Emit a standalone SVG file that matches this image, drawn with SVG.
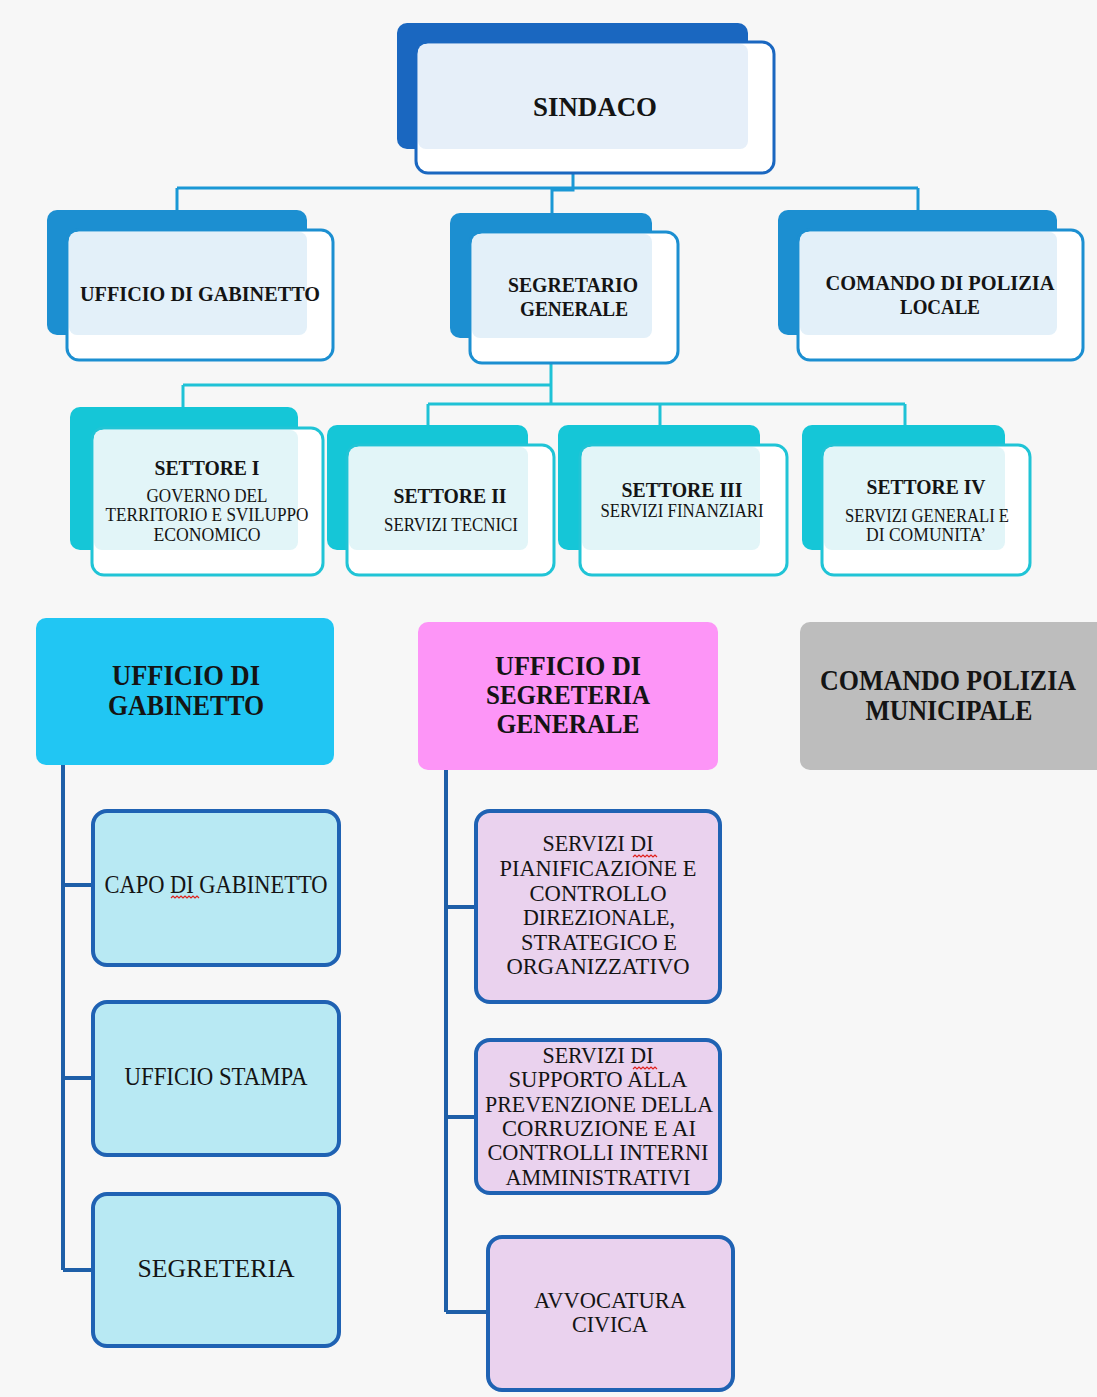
<svg xmlns="http://www.w3.org/2000/svg" width="1097" height="1397" viewBox="0 0 1097 1397">
<style>
.t{font-family:"Liberation Serif","DejaVu Serif",serif;text-anchor:middle;fill:#141414}
.b{font-weight:bold}
.bk1{fill:#1a67c0}.fr1{fill:#fff;stroke:#1a67c0;stroke-width:3}.ov1{fill:#e6eff9}
.bk2{fill:#1c8fd1}.fr2{fill:#fff;stroke:#1c8fd1;stroke-width:3}.ov2{fill:#e3f0f9}
.bk3{fill:#15c6d7}.fr3{fill:#fff;stroke:#20c4d6;stroke-width:3}.ov3{fill:#e2f5f8}
.lb{fill:#b8e9f3;stroke:#1f62b3;stroke-width:4}
.lv{fill:#ead2ee;stroke:#1f62b3;stroke-width:4}
.c1{fill:none;stroke:#1a98d5;stroke-width:3}
.c2{fill:none;stroke:#1fc2d6;stroke-width:3}
.c0{fill:none;stroke:#cfdbe6;stroke-width:2}
.c3{fill:none;stroke:#1e5fa8;stroke-width:4}
.sq{fill:none;stroke:#e0201c;stroke-width:1.2}
.m{font-size:23px}
</style>
<rect x="0" y="0" width="1097" height="1397" fill="#f7f7f7"/>

<g id="connectors">
<path class="c0" d="M573,150 V173"/>
<path class="c1" d="M573,173 V190 H552 V213"/>
<path class="c1" d="M177,188 H918"/>
<path class="c1" d="M177,188 V210"/>
<path class="c1" d="M918,188 V210"/>
<path class="c0" d="M551,338 V363"/>
<path class="c2" d="M551,363 V404"/>
<path class="c2" d="M183,385 H551"/>
<path class="c2" d="M183,385 V407"/>
<path class="c2" d="M428,404 H905"/>
<path class="c2" d="M428,404 V425"/>
<path class="c2" d="M660,404 V425"/>
<path class="c2" d="M905,404 V425"/>
<path class="c3" d="M63,765 V1270 M63,885 H93 M63,1078 H93 M63,1270 H93"/>
<path class="c3" d="M446,770 V1312 M446,907 H476 M446,1117 H476 M446,1312 H489"/>
</g>

<g id="sindaco">
<rect class="bk1" x="397" y="23" width="351" height="126" rx="10"/>
<rect class="fr1" x="416" y="42" width="358" height="131" rx="12"/>
<rect class="ov1" x="418" y="44" width="330" height="105" rx="8"/>
<text class="t b" x="595" y="116" font-size="28" textLength="124" lengthAdjust="spacingAndGlyphs">SINDACO</text>
</g>

<g id="ufficio-gabinetto-top">
<rect class="bk2" x="47" y="210" width="260" height="125" rx="10"/>
<rect class="fr2" x="67" y="230" width="266" height="130" rx="12"/>
<rect class="ov2" x="69" y="232" width="238" height="103" rx="8"/>
<text class="t b" x="200" y="301" font-size="22" textLength="240" lengthAdjust="spacingAndGlyphs">UFFICIO DI GABINETTO</text>
</g>

<g id="segretario-generale">
<rect class="bk2" x="450" y="213" width="202" height="125" rx="10"/>
<rect class="fr2" x="470" y="232" width="208" height="131" rx="12"/>
<rect class="ov2" x="472" y="234" width="180" height="104" rx="8"/>
<text class="t b" x="573" y="292" font-size="22" textLength="130" lengthAdjust="spacingAndGlyphs">SEGRETARIO</text>
<text class="t b" x="574" y="316" font-size="22" textLength="108" lengthAdjust="spacingAndGlyphs">GENERALE</text>
</g>

<g id="comando-polizia-locale">
<rect class="bk2" x="778" y="210" width="279" height="125" rx="10"/>
<rect class="fr2" x="798" y="230" width="285" height="130" rx="12"/>
<rect class="ov2" x="800" y="232" width="257" height="103" rx="8"/>
<text class="t b" x="940" y="290" font-size="22" textLength="229" lengthAdjust="spacingAndGlyphs">COMANDO DI POLIZIA</text>
<text class="t b" x="940" y="314" font-size="22" textLength="80" lengthAdjust="spacingAndGlyphs">LOCALE</text>
</g>

<g id="settore-1">
<rect class="bk3" x="70" y="407" width="228" height="143" rx="10"/>
<rect class="fr3" x="92" y="428" width="231" height="147" rx="12"/>
<rect class="ov3" x="94" y="430" width="204" height="120" rx="8"/>
<text class="t b" x="207" y="475" font-size="21" textLength="105" lengthAdjust="spacingAndGlyphs">SETTORE I</text>
<text class="t" x="207" y="502" font-size="18" textLength="121" lengthAdjust="spacingAndGlyphs">GOVERNO DEL</text>
<text class="t" x="207" y="521" font-size="18" textLength="203" lengthAdjust="spacingAndGlyphs">TERRITORIO E SVILUPPO</text>
<text class="t" x="207" y="541" font-size="18" textLength="107" lengthAdjust="spacingAndGlyphs">ECONOMICO</text>
</g>

<g id="settore-2">
<rect class="bk3" x="327" y="425" width="201" height="125" rx="10"/>
<rect class="fr3" x="347" y="445" width="207" height="130" rx="12"/>
<rect class="ov3" x="349" y="447" width="179" height="103" rx="8"/>
<text class="t b" x="450" y="503" font-size="21" textLength="113" lengthAdjust="spacingAndGlyphs">SETTORE II</text>
<text class="t" x="451" y="531" font-size="18" textLength="134" lengthAdjust="spacingAndGlyphs">SERVIZI TECNICI</text>
</g>

<g id="settore-3">
<rect class="bk3" x="558" y="425" width="202" height="125" rx="10"/>
<rect class="fr3" x="580" y="445" width="207" height="130" rx="12"/>
<rect class="ov3" x="582" y="447" width="178" height="103" rx="8"/>
<text class="t b" x="682" y="497" font-size="21" textLength="121" lengthAdjust="spacingAndGlyphs">SETTORE III</text>
<text class="t" x="682" y="517" font-size="18" textLength="163" lengthAdjust="spacingAndGlyphs">SERVIZI FINANZIARI</text>
</g>

<g id="settore-4">
<rect class="bk3" x="802" y="425" width="203" height="125" rx="10"/>
<rect class="fr3" x="822" y="445" width="208" height="130" rx="12"/>
<rect class="ov3" x="824" y="447" width="181" height="103" rx="8"/>
<text class="t b" x="926" y="494" font-size="21" textLength="119" lengthAdjust="spacingAndGlyphs">SETTORE IV</text>
<text class="t" x="927" y="522" font-size="18" textLength="164" lengthAdjust="spacingAndGlyphs">SERVIZI GENERALI E</text>
<text class="t" x="926" y="541" font-size="18" textLength="120" lengthAdjust="spacingAndGlyphs">DI COMUNITA’</text>
</g>

<g id="ufficio-gabinetto">
<rect x="36" y="618" width="298" height="147" rx="10" fill="#21c6f3"/>
<text class="t b" x="186" y="685" font-size="29" textLength="148" lengthAdjust="spacingAndGlyphs">UFFICIO DI</text>
<text class="t b" x="186" y="715" font-size="29" textLength="156" lengthAdjust="spacingAndGlyphs">GABINETTO</text>
</g>

<g id="ufficio-segreteria-generale">
<rect x="418" y="622" width="300" height="148" rx="10" fill="#fd95f7"/>
<text class="t b" x="568" y="675" font-size="28" textLength="146" lengthAdjust="spacingAndGlyphs">UFFICIO DI</text>
<text class="t b" x="568" y="704" font-size="28" textLength="164" lengthAdjust="spacingAndGlyphs">SEGRETERIA</text>
<text class="t b" x="568" y="733" font-size="28" textLength="143" lengthAdjust="spacingAndGlyphs">GENERALE</text>
</g>

<g id="comando-polizia-municipale">
<path d="M810,622 H1097 V770 H810 A10,10 0 0 1 800,760 V632 A10,10 0 0 1 810,622 Z" fill="#bdbdbd"/>
<text class="t b" x="948" y="690" font-size="29" textLength="256" lengthAdjust="spacingAndGlyphs">COMANDO POLIZIA</text>
<text class="t b" x="949" y="720" font-size="29" textLength="167" lengthAdjust="spacingAndGlyphs">MUNICIPALE</text>
</g>

<g id="capo-di-gabinetto">
<rect class="lb" x="93" y="811" width="246" height="154" rx="14"/>
<text class="t" x="216" y="893" font-size="25" textLength="223" lengthAdjust="spacingAndGlyphs">CAPO DI GABINETTO</text>
<path class="sq" d="M171,898 l2,-2 l2,2 l2,-2 l2,2 l2,-2 l2,2 l2,-2 l2,2 l2,-2 l2,2 l2,-2 l2,2 l2,-2 l2,2"/>
</g>

<g id="ufficio-stampa">
<rect class="lb" x="93" y="1002" width="246" height="153" rx="14"/>
<text class="t" x="216" y="1085" font-size="25" textLength="183" lengthAdjust="spacingAndGlyphs">UFFICIO STAMPA</text>
</g>

<g id="segreteria">
<rect class="lb" x="93" y="1194" width="246" height="152" rx="14"/>
<text class="t" x="216" y="1277" font-size="26" textLength="157" lengthAdjust="spacingAndGlyphs">SEGRETERIA</text>
</g>

<g id="servizi-pianificazione">
<rect class="lv" x="476" y="811" width="244" height="191" rx="14"/>
<text class="t m" x="598" y="851" textLength="111" lengthAdjust="spacingAndGlyphs">SERVIZI DI</text>
<text class="t m" x="598" y="876" textLength="197" lengthAdjust="spacingAndGlyphs">PIANIFICAZIONE E</text>
<text class="t m" x="598" y="901" textLength="137" lengthAdjust="spacingAndGlyphs">CONTROLLO</text>
<text class="t m" x="599" y="925" textLength="152" lengthAdjust="spacingAndGlyphs">DIREZIONALE,</text>
<text class="t m" x="599" y="950" textLength="156" lengthAdjust="spacingAndGlyphs">STRATEGICO E</text>
<text class="t m" x="598" y="974" textLength="183" lengthAdjust="spacingAndGlyphs">ORGANIZZATIVO</text>
<path class="sq" d="M633,857 l2,-2 l2,2 l2,-2 l2,2 l2,-2 l2,2 l2,-2 l2,2 l2,-2 l2,2 l2,-2 l2,2"/>
</g>

<g id="servizi-supporto">
<rect class="lv" x="476" y="1040" width="244" height="153" rx="14"/>
<text class="t m" x="598" y="1063" textLength="111" lengthAdjust="spacingAndGlyphs">SERVIZI DI</text>
<text class="t m" x="598" y="1087" textLength="179" lengthAdjust="spacingAndGlyphs">SUPPORTO ALLA</text>
<text class="t m" x="599" y="1112" textLength="228" lengthAdjust="spacingAndGlyphs">PREVENZIONE DELLA</text>
<text class="t m" x="599" y="1136" textLength="194" lengthAdjust="spacingAndGlyphs">CORRUZIONE E AI</text>
<text class="t m" x="598" y="1160" textLength="221" lengthAdjust="spacingAndGlyphs">CONTROLLI INTERNI</text>
<text class="t m" x="598" y="1185" textLength="185" lengthAdjust="spacingAndGlyphs">AMMINISTRATIVI</text>
<path class="sq" d="M633,1069 l2,-2 l2,2 l2,-2 l2,2 l2,-2 l2,2 l2,-2 l2,2 l2,-2 l2,2 l2,-2 l2,2"/>
</g>

<g id="avvocatura-civica">
<rect class="lv" x="488" y="1237" width="245" height="153" rx="14"/>
<text class="t" x="610" y="1308" font-size="24" textLength="152" lengthAdjust="spacingAndGlyphs">AVVOCATURA</text>
<text class="t" x="610" y="1332" font-size="24" textLength="76" lengthAdjust="spacingAndGlyphs">CIVICA</text>
</g>
</svg>
